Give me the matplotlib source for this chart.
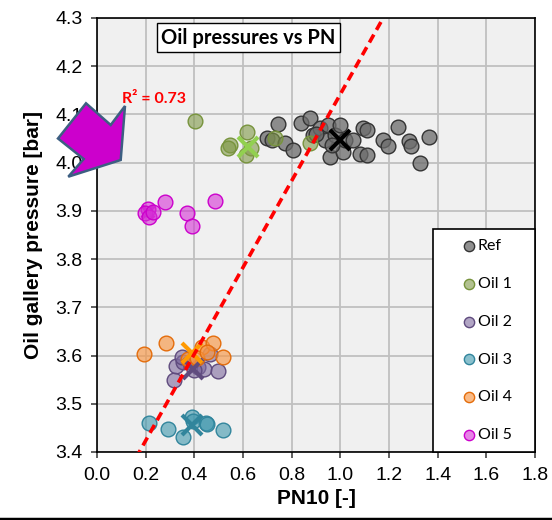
import matplotlib
matplotlib.use("Agg")
import matplotlib.pyplot as plt
from matplotlib.patches import Polygon, Rectangle
from matplotlib.lines import Line2D
import numpy as np

# ---- data -----------------------------------------------------------------
series_names = ["Ref", "Oil 1", "Oil 2", "Oil 3", "Oil 4", "Oil 5"]

ref_pn = [0.697, 0.719, 0.745, 0.773, 0.804, 0.838, 0.875, 0.887, 0.917, 0.951,
          0.937, 0.958, 0.978, 0.999, 1.012, 1.019, 1.053, 1.081, 1.095, 1.108,
          1.108, 1.174, 1.197, 1.236, 1.284, 1.289, 1.328, 1.365, 0.900, 0.966]
ref_p = [4.052, 4.047, 4.080, 4.041, 4.026, 4.082, 4.092, 4.057, 4.072, 4.078,
         4.047, 4.012, 4.057, 4.078, 4.023, 4.047, 4.047, 4.019, 4.071, 4.068,
         4.016, 4.047, 4.035, 4.074, 4.045, 4.034, 3.999, 4.054, 4.060, 4.036]

oil1_pn = [0.403, 0.547, 0.540, 0.618, 0.632, 0.612, 0.732, 0.875]
oil1_p = [4.087, 4.037, 4.030, 4.064, 4.030, 4.016, 4.052, 4.040]

oil2_pn = [0.316, 0.325, 0.355, 0.382, 0.416, 0.441, 0.464, 0.496, 0.348, 0.400]
oil2_p = [3.550, 3.578, 3.587, 3.587, 3.577, 3.573, 3.604, 3.568, 3.597, 3.570]

oil3_pn = [0.215, 0.290, 0.355, 0.389, 0.393, 0.448, 0.453, 0.519]
oil3_p = [3.460, 3.447, 3.431, 3.473, 3.465, 3.460, 3.458, 3.445]

oil4_pn = [0.193, 0.284, 0.430, 0.478, 0.519, 0.375, 0.410, 0.451]
oil4_p = [3.604, 3.627, 3.618, 3.626, 3.597, 3.592, 3.594, 3.608]

oil5_pn = [0.211, 0.197, 0.215, 0.231, 0.279, 0.369, 0.389, 0.485]
oil5_p = [3.903, 3.895, 3.888, 3.898, 3.919, 3.895, 3.868, 3.921]

# average of each group (cross markers)
mean_pn = [0.999, 0.619, 0.396, 0.389, 0.391, 0.208]
mean_p = [4.048, 4.033, 3.573, 3.456, 3.606, 3.898]

# linear trend of pressure against PN10
trend_slope = 0.898
trend_intercept = 3.244
trend_r2 = 0.73

x_ticks = [0.0, 0.2, 0.4, 0.6, 0.8, 1.0, 1.2, 1.4, 1.6, 1.8]
y_ticks = [3.4, 3.5, 3.6, 3.7, 3.8, 3.9, 4.0, 4.1, 4.2, 4.3]

# ---- style ----------------------------------------------------------------
face_colors = [(0.42, 0.42, 0.42, 0.75), (0.50, 0.60, 0.28, 0.60),
               (0.49, 0.41, 0.62, 0.60), (0.24, 0.59, 0.68, 0.60),
               (0.97, 0.59, 0.27, 0.65), (0.84, 0.20, 0.84, 0.60)]
edge_colors = ["#333333", "#77933C", "#5F4B7E", "#31859C", "#E46C0A", "#CC00CC"]
cross_colors = ["#000000", "#92D050", "#5F4B7E", "#31859C", "#FF9900", "#CC00CC"]
cross_z = [4, 4, 4, 4, 4, 2]
cross_size = [15, 15, 15, 15, 15, 8]

W, H, DPI = 552, 520, 100
fig = plt.figure(figsize=(W / DPI, H / DPI), dpi=DPI)
fig.patch.set_facecolor("white")

ax_l, ax_r, ax_t, ax_b = 97, 535, 18, 452
ax = fig.add_axes([ax_l / W, 1 - ax_b / H, (ax_r - ax_l) / W, (ax_b - ax_t) / H])
ax.set_facecolor("#F0F0F0")
ax.set_xlim(0.0, 1.8)
ax.set_ylim(3.4, 4.3)
ax.set_xticks(x_ticks)
ax.set_yticks(y_ticks)
ax.set_xticklabels([f"{v:.1f}" for v in x_ticks], fontsize=14,
                   family="Liberation Sans")
ax.set_yticklabels([f"{v:.1f}" for v in y_ticks], fontsize=14,
                   family="Liberation Sans")
ax.tick_params(axis="both", direction="out", length=4.5, width=1.1,
               color="#333333", pad=6)
ax.grid(True, color="#C0C0C0", linewidth=1.3, zorder=0)
ax.set_axisbelow(True)
for sp in ax.spines.values():
    sp.set_color("black")
    sp.set_linewidth(1.2)

ax.set_xlabel("PN10 [-]", fontsize=15, fontweight="bold",
              family="Liberation Sans", labelpad=4)
ax.set_ylabel("Oil gallery pressure [bar]", fontsize=15, fontweight="bold",
              family="Liberation Sans", labelpad=9)

groups = [(ref_pn, ref_p), (oil1_pn, oil1_p), (oil2_pn, oil2_p),
          (oil3_pn, oil3_p), (oil4_pn, oil4_p), (oil5_pn, oil5_p)]
handles = []
for i, (xs, ys) in enumerate(groups):
    h = ax.scatter(xs, ys, s=112, facecolor=face_colors[i],
                   edgecolor=edge_colors[i], linewidth=1.0, zorder=3,
                   label=series_names[i])
    handles.append(h)

for i in range(len(series_names)):
    ax.plot(mean_pn[i], mean_p[i], marker="x", markersize=cross_size[i],
            markeredgewidth=3, color=cross_colors[i], zorder=cross_z[i],
            linestyle="none")

# trend line
tx = np.array([0.0, 1.8])
ax.plot(tx, trend_slope * tx + trend_intercept, color="#FF0000", linewidth=2.6,
        linestyle=(0, (2.5, 1.5)), zorder=5, dash_capstyle="butt")

ax.text(122 / W, 1 - 99 / H, f"R² = {trend_r2:.2f}", transform=fig.transFigure,
        color="#FF0000", fontsize=11.5, fontweight="bold", family="Lato",
        ha="left", va="center", zorder=6)

# title box
ax.text((159 + 338) / 2 / W, 1 - 37.5 / H, "Oil pressures vs PN",
        transform=fig.transFigure, fontsize=14.5, fontweight="bold",
        family="Lato", ha="center", va="center", zorder=7,
        bbox=dict(boxstyle="square,pad=0.2", facecolor="white",
                  edgecolor="black", linewidth=1.0))

# legend frame and entries
lx0, lx1, ly0 = 433, 535, 229
fig.patches.append(Rectangle((lx0 / W, 1 - ax_b / H), (lx1 - lx0) / W,
                             (ax_b - ly0) / H, transform=fig.transFigure,
                             facecolor="white", edgecolor="black",
                             linewidth=1.2, zorder=8))
leg = fig.legend(handles=handles, labels=series_names, loc="upper left",
                 bbox_to_anchor=(461 / W, 1 - 239 / H), frameon=False,
                 markerscale=0.7, handletextpad=0.05, handlelength=1.0,
                 labelspacing=1.48, borderpad=0, borderaxespad=0,
                 prop=dict(family="Lato", size=11.5))
leg.set_zorder(9)

# pointer arrow at the left of the plot
arrow_px = [(86, 103.3), (58, 138.5), (83.7, 159), (68.3, 176.7),
            (120.7, 160), (125, 106), (110.7, 125)]
fig.patches.append(Polygon([(x / W, 1 - y / H) for x, y in arrow_px],
                           closed=True, transform=fig.transFigure,
                           facecolor="#CC00CC", edgecolor="#3D5F82",
                           linewidth=1.8, zorder=10))

# bottom border line
fig.add_artist(Line2D([0, 1], [1.5 / H, 1.5 / H], transform=fig.transFigure,
                      color="black", linewidth=2.5))

fig.savefig("out.png", dpi=DPI)
